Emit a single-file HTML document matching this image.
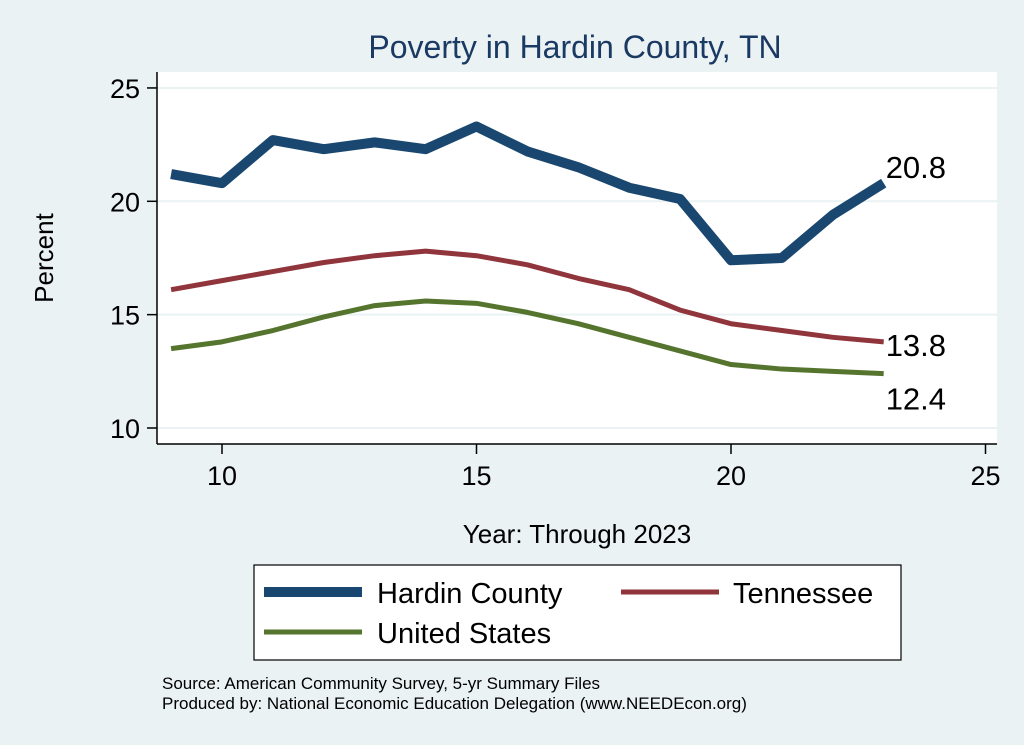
<!DOCTYPE html>
<html><head><meta charset="utf-8"><style>
body{margin:0;background:#eaf2f3;}
svg{display:block;font-family:"Liberation Sans",sans-serif;}
</style></head><body>
<svg width="1024" height="745" id="c">
<rect x="0" y="0" width="1024" height="745" fill="#eaf2f3"/>
<rect x="157" y="72" width="840" height="372" fill="#fff"/>
<text x="575" y="58" font-size="32" fill="#1a3a64" text-anchor="middle">Poverty in Hardin County, TN</text>
<text x="53" y="258" font-size="26" text-anchor="middle" transform="rotate(-90 53 258)">Percent</text>
<text x="577" y="543" font-size="26" text-anchor="middle">Year: Through 2023</text>
<g id="grid"></g><g id="axes"></g><g id="series"></g>
<rect x="254" y="565" width="647" height="95" fill="#fff" stroke="#000" stroke-width="1.2"/>
<g><line x1="264" y1="592" x2="362" y2="592" stroke="#1a476f" stroke-width="10"/><text x="377" y="603" font-size="29">Hardin County</text></g>
<g><line x1="621" y1="592" x2="719" y2="592" stroke="#90353b" stroke-width="5"/><text x="733" y="603" font-size="29">Tennessee</text></g>
<g><line x1="264" y1="632" x2="362" y2="632" stroke="#55752f" stroke-width="5"/><text x="377" y="643" font-size="29">United States</text></g>
<text x="162" y="689" font-size="17">Source: American Community Survey, 5-yr Summary Files</text>
<text x="162" y="709" font-size="17">Produced by: National Economic Education Delegation (www.NEEDEcon.org)</text>
</svg>
<script>
const years=[9,10,11,12,13,14,15,16,17,18,19,20,21,22,23];
const hardin=[21.2,20.8,22.7,22.3,22.6,22.3,23.3,22.2,21.5,20.6,20.1,17.4,17.5,19.4,20.8];
const tennessee=[16.1,16.5,16.9,17.3,17.6,17.8,17.6,17.2,16.6,16.1,15.2,14.6,14.3,14.0,13.8];
const us=[13.5,13.8,14.3,14.9,15.4,15.6,15.5,15.1,14.6,14.0,13.4,12.8,12.6,12.5,12.4];
const xTicks=[10,15,20,25];
const yTicks=[10,15,20,25];
const xs=v=>222+(v-10)*50.9;
const ys=v=>428-(v-10)*22.67;
const NS='http://www.w3.org/2000/svg';
function mk(t,a,p){const e=document.createElementNS(NS,t);for(const k in a)e.setAttribute(k,a[k]);p.appendChild(e);return e;}
const grid=document.getElementById('grid'),axes=document.getElementById('axes'),ser=document.getElementById('series');
yTicks.forEach(v=>{
 const g=mk('line',{x1:157,x2:997,y1:ys(v),y2:ys(v),stroke:'#eaf2f3','stroke-width':2},grid);
 
 
 const t=mk('line',{x1:147,x2:157,y1:ys(v),y2:ys(v),stroke:'#000','stroke-width':1.5},axes);
 
 
 const l=mk('text',{x:140,y:ys(v)+10,'font-size':27,'text-anchor':'end'},axes);l.textContent=v;
 
 
});
xTicks.forEach(v=>{
 const t=mk('line',{x1:xs(v),x2:xs(v),y1:444,y2:454,stroke:'#000','stroke-width':1.5},axes);
 
 
 const l=mk('text',{x:xs(v),y:485,'font-size':27,'text-anchor':'middle'},axes);l.textContent=v;
 
 
});
const ya=mk('line',{x1:157,x2:157,y1:72,y2:444,stroke:'#000','stroke-width':1.5},axes);


const xa=mk('line',{x1:157,x2:997,y1:444,y2:444,stroke:'#000','stroke-width':1.5},axes);


function line(vals,color,w,name,dy){
 const p=mk('polyline',{points:vals.map((v,i)=>xs(years[i])+','+ys(v)).join(' '),fill:'none',stroke:color,'stroke-width':w,'stroke-linejoin':'round'},ser);
 
 
 const last=vals[vals.length-1];
 const t=mk('text',{x:xs(years[years.length-1])+2,y:ys(last)+dy,'font-size':31},ser);t.textContent=last.toFixed(1);
 
 
}
line(us,'#55752f',5,'line-united-states',36);
line(tennessee,'#90353b',5,'line-tennessee',14);
line(hardin,'#1a476f',10,'line-hardin-county',-5);
</script>
</body></html>
